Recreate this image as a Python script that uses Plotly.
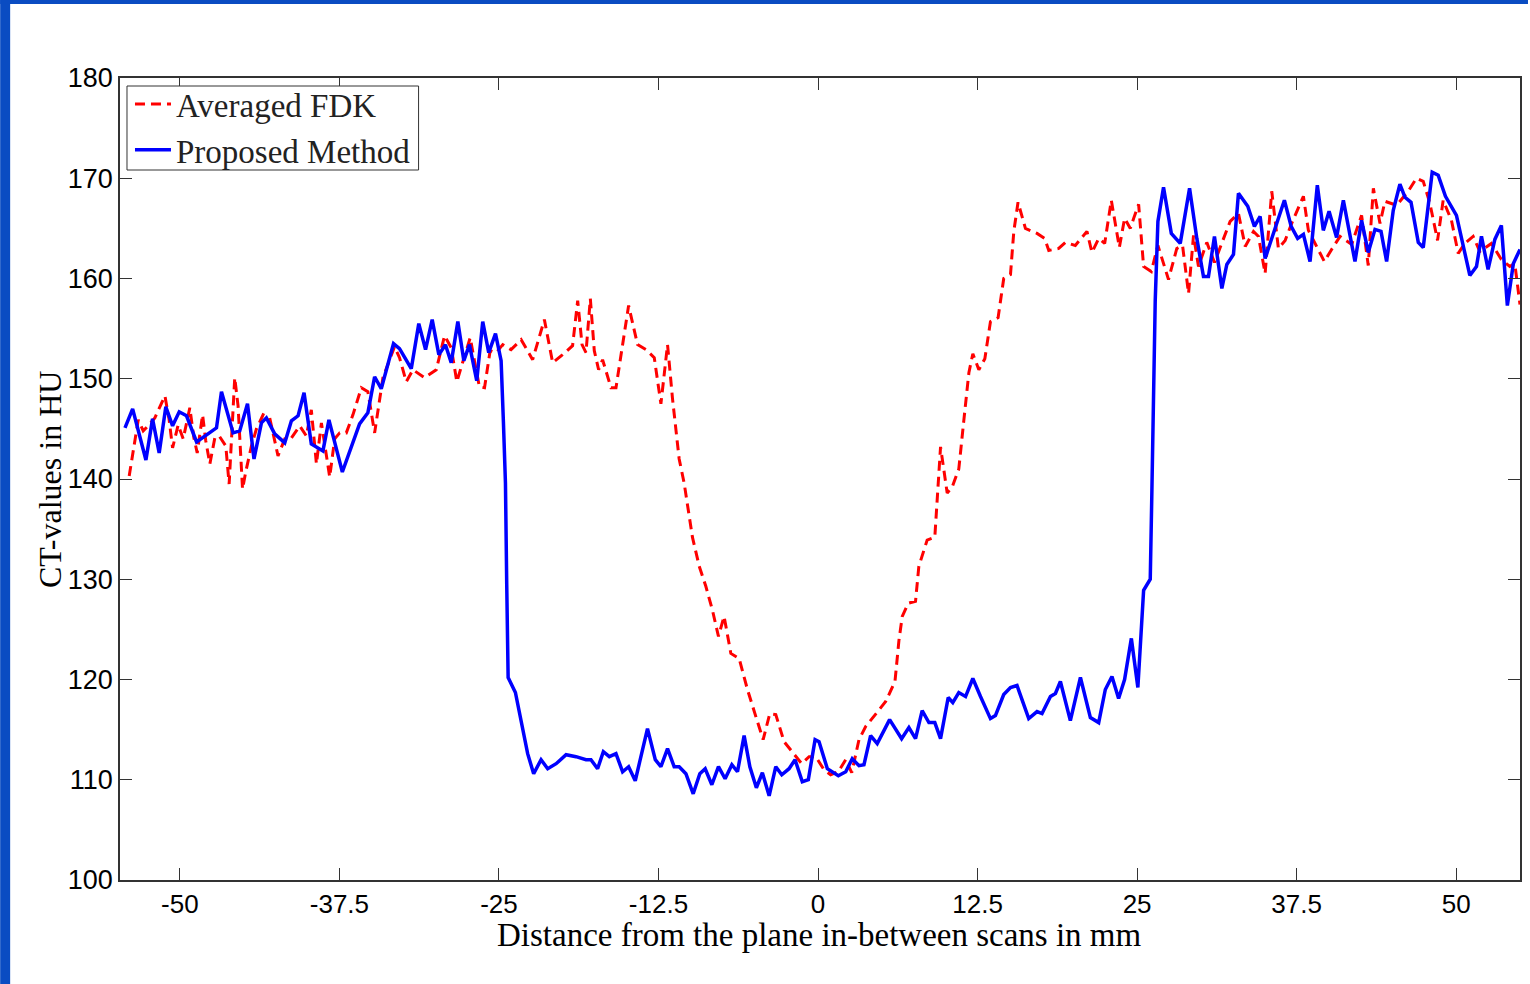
import plotly.graph_objects as go

# ---- data ----
blue_x = [-54.3, -53.7, -52.66, -52.14, -51.62, -51.1, -50.57, -50.05, -49.48, -48.69,
          -47.13, -46.74, -45.83, -45.31, -44.7, -44.19, -43.61, -43.22, -42.57, -41.78,
          -41.26, -40.74, -40.27, -39.7, -38.79, -38.32, -37.27, -36.44, -35.92, -35.27,
          -34.74, -34.22, -33.26, -32.79,
          -31.87, -31.28, -30.75, -30.23, -29.71, -29.19, -28.74, -28.22, -27.75, -27.31,
          -26.74, -26.27, -25.8, -25.27, -24.83, -24.65, -24.49, -24.39, -24.28, -23.71,
          -22.75, -22.28, -21.7, -21.18, -20.52, -19.74, -18.96, -18.18, -17.79, -17.27,
          -16.82, -16.35, -15.83, -15.31, -14.84, -14.32, -13.36, -12.75, -12.31, -11.79,
          -11.27,
          -10.88, -10.35, -9.78, -9.26, -8.84, -8.32, -7.8, -7.28, -6.75, -6.31,
          -5.79, -5.34, -4.83, -4.36, -3.83, -3.31, -2.84, -2.27, -1.8, -1.23,
          -0.76, -0.23, 0.08, 0.73, 1.59, 2.17, 2.68, 3.21, 3.6, 4.12,
          4.64, 5.61, 6.55, 7.12, 7.64, 8.16, 8.69, 9.15, 9.6, 10.2,
          10.56, 11.03,
          11.56, 12.13, 12.73, 13.51, 13.9, 14.55, 15.08, 15.59, 16.51, 17.16,
          17.55, 18.21, 18.6, 18.99, 19.77, 20.56, 21.34, 21.99, 22.51, 23.03,
          23.55, 24.02, 24.55, 25.06, 25.51, 26.03, 26.16, 26.29, 26.42, 26.63,
          27.07, 27.68, 28.38, 29.11, 29.68, 30.2, 30.59, 31.06, 31.64, 32.03,
          32.55, 32.94,
          33.67, 34.19, 34.64, 35.03, 35.68, 36.54, 37.07, 37.58, 38.03, 38.55,
          39.12, 39.59, 40.04, 40.63, 41.16, 42.07, 42.59, 43.11, 43.64, 44.11,
          44.55, 45.07, 45.59, 45.99, 46.46, 47.03, 47.42, 48.12, 48.59, 49.16,
          50.02, 51.07, 51.59, 51.98, 52.5, 53.03, 53.54, 54.01, 54.48, 55.0]
blue_y = [145.1, 147.0, 141.9, 146.0, 142.6, 147.2, 145.3, 146.7, 146.3, 143.7,
          145.1, 148.7, 144.6, 144.8, 147.5, 142.0, 145.6, 146.1, 144.5, 143.6,
          145.8, 146.3, 148.6, 143.5, 142.8, 145.9, 140.7, 143.5, 145.5, 146.6,
          150.2, 149.0, 153.5, 153.0,
          151.0, 155.5, 152.9, 155.9, 152.4, 153.4, 151.6, 155.7, 151.8, 153.4,
          149.8, 155.7, 152.6, 154.5, 151.8, 145.7, 139.6, 129.5, 120.2, 118.7,
          112.6, 110.6, 112.0, 111.1, 111.6, 112.5, 112.3, 112.0, 112.0, 111.1,
          112.8, 112.3, 112.6, 110.8, 111.3, 109.9, 115.1, 112.0, 111.3, 113.1,
          111.3,
          111.3, 110.6, 108.6, 110.6, 111.1, 109.5, 111.3, 110.1, 111.5, 110.8,
          114.4, 111.3, 109.2, 110.7, 108.4, 111.3, 110.5, 111.1, 112.0, 109.8,
          110.0, 114.0, 113.8, 111.1, 110.4, 110.8, 112.1, 111.4, 111.5, 114.4,
          113.6, 116.0, 114.1, 115.2, 114.1, 116.9, 115.7, 115.7, 114.1, 118.2,
          117.7, 118.7,
          118.3, 120.1, 118.3, 116.1, 116.4, 118.5, 119.2, 119.4, 116.1, 116.8,
          116.6, 118.3, 118.6, 119.8, 115.9, 120.2, 116.2, 115.7, 119.0, 120.3,
          118.1, 120.0, 124.1, 119.2, 128.9, 130.0, 138.9, 147.5, 157.8, 165.7,
          169.1, 164.5, 163.5, 169.0, 164.0, 160.2, 160.2, 164.2, 159.0, 161.4,
          162.4, 168.5,
          167.2, 165.2, 166.2, 162.0, 164.5, 167.8, 165.2, 164.0, 164.4, 161.7,
          169.3, 164.8, 166.7, 164.1, 167.8, 161.7, 165.8, 162.6, 164.9, 164.7,
          161.7, 166.8, 169.4, 168.1, 167.6, 163.6, 163.1, 170.6, 170.3, 168.2,
          166.3, 160.3, 161.2, 164.2, 160.9, 163.9, 165.3, 157.3, 161.5, 162.9]

red_x = [-53.97, -53.26, -52.87, -52.48, -51.96, -51.17, -50.84, -50.57, -50.13, -49.74,
         -49.22, -48.9, -48.64, -48.22, -47.97, -47.65, -47.26, -46.92, -46.4, -46.14,
         -45.7, -45.44, -45.09, -44.84, -44.39, -44.0, -43.48, -42.96, -42.31, -41.78,
         -41.26, -40.61, -40.09, -39.7, -39.3, -38.91, -38.26, -37.87, -37.48, -36.96,
         -36.44, -35.78, -35.27, -34.74, -34.09, -33.18, -32.79,
         -32.26, -31.74, -30.83, -29.91, -29.26, -28.74, -28.3, -27.78, -27.25, -26.92,
         -26.53, -26.13, -25.69, -25.22, -24.7, -24.05, -23.26, -22.36, -21.44, -20.79,
         -20.01, -19.23, -18.83, -18.49, -18.18, -17.84, -17.53, -17.19, -16.88, -16.22,
         -15.83, -14.84, -14.14, -13.48, -12.83, -12.31, -12.05, -11.79, -11.4, -11.01,
         -10.88, -10.49, -9.84, -9.31, -8.79, -8.27, -7.8, -7.36, -6.83, -6.18,
         -5.53, -4.87, -4.3, -3.78, -3.31, -2.66, -1.88, -1.28, -0.7, -0.18,
         0.47, 0.99, 1.59, 2.17, 2.64, 3.21, 3.73, 4.51, 5.3, 6.03,
         6.34, 6.6, 7.07, 7.64, 7.9, 8.55, 9.15, 9.6, 10.12, 10.51,
         11.03, 11.42, 11.82, 12.13, 12.6, 13.07, 13.51, 14.11, 14.55, 15.08,
         15.34, 15.67, 16.25, 17.16, 17.76, 18.08, 18.86, 19.38, 20.16, 21.07,
         21.46, 21.99, 22.46, 22.98, 23.29, 23.61, 24.02, 24.47, 24.73, 25.12,
         25.51, 26.11, 26.63, 27.46, 28.11, 28.56, 29.03, 29.42, 29.81, 30.46,
         31.06, 31.64, 32.29, 32.94,
         33.47, 34.12, 34.51, 35.03, 35.55, 36.07, 36.6, 37.11, 38.03, 38.42,
         39.07, 39.67, 40.24, 40.9, 41.81, 42.59, 43.11, 43.51, 44.03, 44.42,
         45.33, 46.24, 46.89, 47.42, 47.94, 48.54, 48.98, 49.63, 50.16, 50.68,
         51.33, 51.85, 52.76, 53.54, 54.2, 54.59, 55.0]
red_y = [140.3, 145.9, 144.8, 145.3, 146.1, 148.3, 145.9, 143.1, 145.4, 144.0,
         147.1, 144.1, 142.6, 146.4, 143.8, 141.5, 144.1, 144.3, 143.3, 139.5,
         150.1, 147.3, 139.0, 140.7, 143.3, 145.0, 146.4, 146.1, 142.3, 144.0,
         144.1, 145.3, 144.3, 146.9, 141.5, 145.6, 140.2, 144.0, 144.6, 144.6,
         146.4, 149.1, 148.7, 144.6, 150.1, 153.2, 152.1,
         149.7, 150.9, 150.1, 150.9, 154.3, 153.1, 149.7, 151.9, 154.1, 151.8,
         149.2, 149.1, 152.8, 152.6, 153.4, 152.9, 153.9, 151.9, 155.9, 151.6,
         152.4, 153.3, 157.8, 153.4, 152.6, 158.0, 152.8, 150.9, 151.9, 149.1,
         149.1, 157.3, 153.4, 152.9, 152.1, 147.5, 150.2, 153.4, 148.0, 143.3,
         142.0, 139.6, 134.2, 131.3, 129.3, 126.9, 124.3, 126.3, 122.6, 122.1,
         119.0, 116.3, 114.0, 116.6, 116.5, 113.8, 112.6, 111.6, 112.3, 112.3,
         111.0, 110.5, 110.8, 112.0, 110.7, 114.0, 115.3, 116.5, 117.8, 119.8,
         123.9, 126.3, 127.6, 127.8, 131.3, 133.9, 134.2, 143.2, 138.6, 139.2,
         141.0, 145.8, 150.6, 152.5, 150.9, 152.0, 155.7, 156.1, 160.0, 160.4,
         164.7, 167.6, 165.0, 164.5, 164.0, 162.8, 163.0, 163.6, 163.3, 164.7,
         162.6, 164.0, 163.5, 167.8, 165.4, 163.1, 166.0, 165.0, 166.0, 167.4,
         161.2, 160.7, 163.3, 159.9, 163.0, 163.3, 158.5, 164.3, 161.2, 163.6,
         161.6, 163.6, 165.7, 166.5,
         163.2, 164.7, 164.2, 160.5, 168.7, 163.0, 163.8, 165.5, 168.2, 164.8,
         163.2, 161.7, 162.9, 164.2, 163.4, 166.3, 161.3, 169.0, 165.5, 167.7,
         167.3, 168.7, 170.0, 169.7, 167.5, 163.8, 167.8, 165.8, 162.5, 163.5,
         164.2, 162.7, 163.5, 161.9, 161.2, 161.5, 157.4]

x_ticks = [-50, -37.5, -25, -12.5, 0, 12.5, 25, 37.5, 50]
x_tick_labels = ["-50", "-37.5", "-25", "-12.5", "0", "12.5", "25", "37.5", "50"]
y_ticks = [100, 110, 120, 130, 140, 150, 160, 170, 180]

series_names = ["Averaged FDK", "Proposed Method"]
x_title = "Distance from the plane in-between scans in mm"
y_title = "CT-values in HU"

SERIF = "Liberation Serif"
SANS = "Liberation Sans"

# plot-area geometry (pixels)
L, R, T, B = 120, 8, 78, 104
PW, PH = 1530 - L - R, 984 - T - B


def px_x(p):  # figure pixel x -> paper x
    return (p - L) / PW


def px_y(p):  # figure pixel y -> paper y
    return (984 - B - p) / PH


fig = go.Figure()
fig.add_trace(go.Scatter(x=red_x, y=red_y, mode="lines", name=series_names[0],
                         line=dict(color="#ff0000", width=3, dash="10px,6px")))
fig.add_trace(go.Scatter(x=blue_x, y=blue_y, mode="lines", name=series_names[1],
                         line=dict(color="#0000ff", width=3.5)))

axis_common = dict(showgrid=False, zeroline=False, showline=True, linecolor="#333333",
                   linewidth=1.5, mirror="ticks", ticks="inside", ticklen=12,
                   tickcolor="#333333", tickwidth=1)

fig.update_xaxes(range=[-54.69, 55.0], tickvals=x_ticks, ticktext=x_tick_labels,
                 tickfont=dict(family=SANS, size=26, color="black"), **axis_common)
fig.update_yaxes(range=[100, 180], tickvals=y_ticks,
                 tickfont=dict(family=SANS, size=27, color="black"), **axis_common)

# axis titles
fig.add_annotation(text=x_title, xref="paper", yref="paper", x=px_x(820), y=px_y(935),
                   xanchor="center", yanchor="middle", showarrow=False,
                   font=dict(family=SERIF, size=33, color="black"))
fig.add_annotation(text=y_title, xref="paper", yref="paper", x=px_x(50), y=px_y(480),
                   xanchor="center", yanchor="middle", showarrow=False, textangle=-90,
                   font=dict(family=SERIF, size=32, color="black"))

# legend box
fig.add_shape(type="rect", xref="paper", yref="paper", layer="above",
              x0=px_x(127), x1=px_x(419), y0=px_y(170), y1=px_y(86),
              fillcolor="white", line=dict(color="#333333", width=1))

# page frame (blue band on left and top)
FRAME = "#0a4cc2"
fig.add_shape(type="rect", xref="paper", yref="paper", layer="above",
              x0=px_x(0), x1=px_x(10), y0=px_y(984), y1=px_y(0),
              fillcolor=FRAME, line=dict(width=0))
fig.add_shape(type="rect", xref="paper", yref="paper", layer="above",
              x0=px_x(0), x1=px_x(1530), y0=px_y(4), y1=px_y(0),
              fillcolor=FRAME, line=dict(width=0))

fig.update_layout(
    width=1530, height=984,
    margin=dict(l=L, r=R, t=T, b=B),
    paper_bgcolor="white", plot_bgcolor="white",
    showlegend=True,
    legend=dict(x=px_x(130), y=px_y(76), xanchor="left", yanchor="top",
                bgcolor="rgba(0,0,0,0)", borderwidth=0,
                font=dict(family=SERIF, size=33, color="#222222"),
                itemwidth=36, tracegroupgap=0),
)

fig.write_html("out.html", config={"displayModeBar": False},
               post_script="document.body.style.margin='0';document.body.style.padding='0';")
